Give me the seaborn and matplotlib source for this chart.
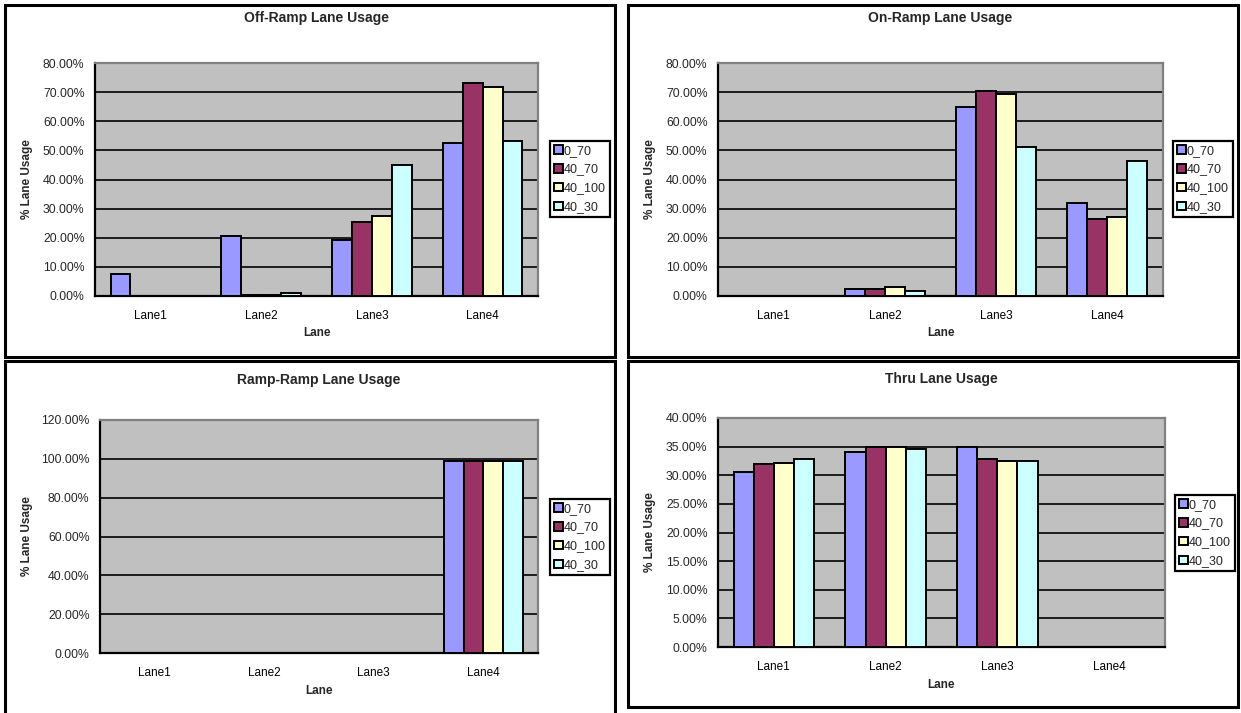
"""Lane usage by scenario for four ramp/thru movements (2x2 bar panels)."""

import matplotlib.pyplot as plt
import numpy as np
import pandas as pd
import seaborn as sns
from matplotlib.patches import Rectangle
from matplotlib.ticker import FuncFormatter, MultipleLocator

W, H = 1241, 713

lanes = ["Lane1", "Lane2", "Lane3", "Lane4"]
scenarios = ["0_70", "40_70", "40_100", "40_30"]
colors = ["#9999FF", "#993366", "#FFFFCC", "#CCFFFF"]

# % lane usage, one row per scenario (same order as `scenarios`)
off_ramp = [
    [7.4, 20.5, 19.1, 52.4],
    [0.0, 0.5, 25.3, 73.1],
    [0.0, 0.2, 27.4, 71.7],
    [0.0, 1.0, 45.1, 53.2],
]
on_ramp = [
    [0.0, 2.4, 65.0, 31.9],
    [0.0, 2.4, 70.4, 26.6],
    [0.0, 3.1, 69.2, 27.2],
    [0.0, 1.8, 51.2, 46.4],
]
ramp_ramp = [
    [0.0, 0.0, 0.0, 99.0],
    [0.0, 0.0, 0.0, 99.0],
    [0.0, 0.0, 0.0, 99.0],
    [0.0, 0.0, 0.0, 99.0],
]
thru = [
    [30.5, 34.0, 35.0, 0.0],
    [31.9, 34.9, 32.8, 0.0],
    [32.1, 35.0, 32.5, 0.0],
    [32.8, 34.6, 32.5, 0.0],
]

panels = [
    # title, data, ymax, ystep, frame (px), plot (px), legend (left, center y), ylabel x, xlabel y, title y
    ("Off-Ramp Lane Usage", off_ramp, 80, 10, (5, 5, 615, 357), (95, 63, 538, 296), (550, 179), 27, 333, 18),
    ("On-Ramp Lane Usage", on_ramp, 80, 10, (628, 5, 1238, 357), (718, 63, 1163, 296), (1173, 179), 650, 333, 18),
    ("Ramp-Ramp Lane Usage", ramp_ramp, 120, 20, (5, 361, 615, 730), (100, 420, 538, 653), (550, 537), 27, 691, 380),
    ("Thru Lane Usage", thru, 40, 5, (628, 361, 1238, 707), (718, 418, 1165, 647), (1175, 533), 650, 685, 379),
]

sns.set_theme(style="white")
plt.rcParams["font.family"] = ["Liberation Sans", "DejaVu Sans"]


def px_rect(x0, y0, x1, y1):
    return [x0 / W, 1 - y1 / H, (x1 - x0) / W, (y1 - y0) / H]


def to_long(values):
    rows = []
    for name, series in zip(scenarios, values):
        for lane, v in zip(lanes, series):
            rows.append({"Lane": lane, "scenario": name, "usage": v})
    return pd.DataFrame(rows)


fig = plt.figure(figsize=(W / 100, H / 100), dpi=100)

for title, values, ymax, ystep, frame, plot, leg, ylab_x, xlab_y, title_y in panels:
    fig.patches.append(Rectangle((frame[0] / W, 1 - frame[3] / H), (frame[2] - frame[0]) / W,
                                 (frame[3] - frame[1]) / H, transform=fig.transFigure,
                                 fill=False, edgecolor="black", linewidth=2.2, zorder=0))

    ax = fig.add_axes(px_rect(*plot))
    sns.barplot(data=to_long(values), x="Lane", y="usage", hue="scenario", hue_order=scenarios,
                palette=colors, edgecolor="black", linewidth=1.4, width=0.72, saturation=1,
                ax=ax, zorder=3)

    ax.set_facecolor("#C0C0C0")
    ax.set_ylim(0, ymax)
    ax.set_xlim(-0.5, 3.5)
    ax.yaxis.set_major_locator(MultipleLocator(ystep))
    ax.yaxis.set_major_formatter(FuncFormatter(lambda v, _: f"{v:.2f}%"))
    ax.yaxis.grid(True, color="black", linewidth=1.2)
    ax.set_axisbelow(True)

    ax.set_xticks(range(len(lanes)))
    ax.set_xticklabels(lanes)
    ax.set_xticks(np.arange(-0.5, 4, 1), minor=True)
    ax.tick_params(axis="x", which="major", length=0, labelsize=8.5, pad=10, colors="black")
    ax.tick_params(axis="x", which="minor", length=4, width=1.2, direction="out", color="black")
    ax.tick_params(axis="y", length=4, width=1.2, direction="out", labelsize=8.8, color="black")

    for side in ("left", "bottom"):
        ax.spines[side].set_color("black")
        ax.spines[side].set_linewidth(1.6)
    for side in ("top", "right"):
        ax.spines[side].set_color("#808080")
        ax.spines[side].set_linewidth(1.6)

    x0, y0, x1, y1 = plot
    ax.set_title(title, fontsize=10, fontweight="bold", va="center", pad=0,
                 y=(y1 - title_y) / (y1 - y0))
    ax.set_xlabel("Lane", fontsize=8.5, fontweight="bold", va="center")
    ax.xaxis.set_label_coords(((x0 + x1) / 2 - x0) / (x1 - x0), (y1 - xlab_y) / (y1 - y0))
    ax.set_ylabel("% Lane Usage", fontsize=8.5, fontweight="bold", va="center")
    ax.yaxis.set_label_coords((ylab_x - x0) / (x1 - x0), 0.5)

    handles, labels = ax.get_legend_handles_labels()
    ax.legend(handles, labels, loc="center left",
              bbox_to_anchor=(leg[0] / W, 1 - leg[1] / H), bbox_transform=fig.transFigure,
              fontsize=9, frameon=True, fancybox=False, edgecolor="black", framealpha=1,
              handlelength=0.7, handleheight=0.7, handletextpad=0.1, labelspacing=0.55,
              borderpad=0.3, borderaxespad=0)
    ax.get_legend().get_frame().set_linewidth(1.6)

fig.savefig("out.png", dpi=100)
